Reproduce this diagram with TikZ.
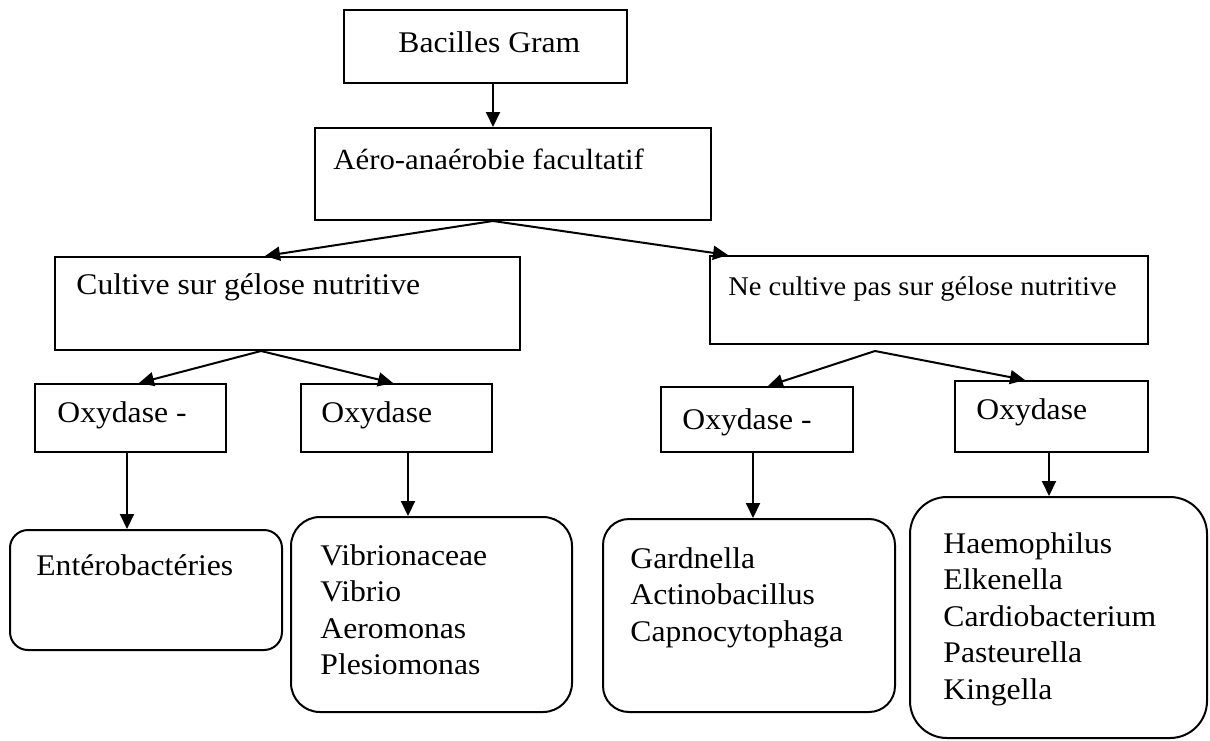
\documentclass[tikz,border=0pt]{standalone}
\usepackage{fontspec}
\setmainfont{Liberation Serif}[FakeStretch=1.055]
\usetikzlibrary{arrows.meta, fit}

\tikzset{
  boite/.style={draw, line width=1pt, inner sep=0pt},
  arrondi/.style={boite, rounded corners=#1},
  texte/.style={anchor=base west, inner sep=0pt, font=\fontsize{#1}{18.25}\selectfont},
  texte/.default=15,
  fleche/.style={line width=1pt, -{Triangle[length=7.5pt,width=7pt]}}
}

\begin{document}
\begin{tikzpicture}[x=0.5pt, y=-0.5pt]
    \useasboundingbox (0,0) rectangle (1210,740);

    % Cadres
    \node (gram)   [boite, fit={(344,10) (627,83)}] {};
    \node (aero)   [boite, fit={(315,128) (711,220)}] {};
    \node (cult)   [boite, fit={(55,257) (520,350)}] {};
    \node (necult) [boite, fit={(710,256) (1148,344)}] {};
    \node (oxa)    [boite, fit={(35,384) (226,452)}] {};
    \node (oxb)    [boite, fit={(301,384) (492,452)}] {};
    \node (oxc)    [boite, fit={(661,387) (853,452)}] {};
    \node (oxd)    [boite, fit={(955,381) (1148,452)}] {};
    \node (ent)    [arrondi=9pt,    fit={(10,530) (282,650)}] {};
    \node (vib)    [arrondi=14.5pt, fit={(291,517) (572,712)}] {};
    \node (gard)   [arrondi=13pt,   fit={(603,519) (895,712)}] {};
    \node (haem)   [arrondi=18.5pt, fit={(910,497) (1207,738)}] {};

    % Textes
    \node (tgram)   [texte] at (398,52)  {Bacilles Gram};
    \node (taero)   [texte=14.6] at (333,169) {Aéro-anaérobie facultatif};
    \node (tcult)   [texte] at (76,294)  {Cultive sur gélose nutritive};
    \node (tnecult) [texte=13.5] at (728,295) {Ne cultive pas sur gélose nutritive};
    \node (toxa)    [texte] at (57,422)  {Oxydase -};
    \node (toxb)    [texte] at (321,422) {Oxydase};
    \node (toxc)    [texte] at (682,429) {Oxydase -};
    \node (toxd)    [texte] at (976,419) {Oxydase};
    \node (tent)    [texte] at (36,575)  {Entérobactéries};
    \node (tvib)    [texte] at (320,565) {\begin{tabular}[t]{@{}l@{}}Vibrionaceae\\Vibrio\\Aeromonas\\Plesiomonas\end{tabular}};
    \node (tgard)   [texte] at (630,568) {\begin{tabular}[t]{@{}l@{}}Gardnella\\Actinobacillus\\Capnocytophaga\end{tabular}};
    \node (thaem)   [texte] at (943,553) {\begin{tabular}[t]{@{}l@{}}Haemophilus\\Elkenella\\Cardiobacterium\\Pasteurella\\Kingella\end{tabular}};

    % Fleches
    \draw[fleche] ([shift={(7.5,0)}]gram.south) -- ([shift={(-20,0)}]aero.north);
    \draw[fleche] ([shift={(-20,0)}]aero.south) -- ([shift={(-22.5,0)}]cult.north);
    \draw[fleche] ([shift={(-20,0)}]aero.south) -- ([shift={(-201,0)}]necult.north);
    \draw[fleche] ([shift={(-26.5,0)}]cult.south) -- ([shift={(8.5,0)}]oxa.north);
    \draw[fleche] ([shift={(-26.5,0)}]cult.south) -- ([shift={(-3.5,0)}]oxb.north);
    \draw[fleche] ([shift={(-54,6)}]necult.south) -- ([shift={(11,0)}]oxc.north);
    \draw[fleche] ([shift={(-54,6)}]necult.south) -- ([shift={(-26.5,0)}]oxd.north);

    \foreach \a/\sa/\b/\sb in {oxa/-3.5/ent/-19, oxb/11.5/vib/-23.5, oxc/-4/gard/4, oxd/-2.5/haem/-9.5}
        \draw[fleche] ([shift={(\sa,0)}]\a.south) -- ([shift={(\sb,0)}]\b.north);
\end{tikzpicture}
\end{document}
